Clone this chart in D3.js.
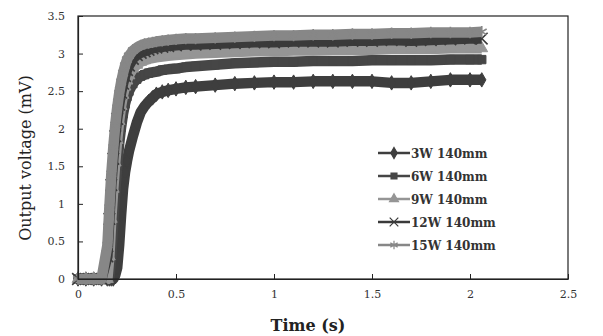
<!DOCTYPE html>
<html>
<head>
<meta charset="utf-8">
<script src="https://cdn.jsdelivr.net/npm/d3@7"></script>
<style>
  html, body { margin: 0; padding: 0; background: #fff; }
  svg { display: block; }
</style>
</head>
<body>
<svg id="chart" width="603" height="336"></svg>
<script>
// Sample times (s) shared by every series
const times = [0, 0.04, 0.08, 0.12, 0.15, 0.16, 0.17, 0.18, 0.19, 0.20, 0.21, 0.22, 0.23, 0.24, 0.25, 0.26,
  0.28, 0.30, 0.32, 0.34, 0.36, 0.38, 0.40, 0.43, 0.46, 0.50, 0.55, 0.60, 0.70, 0.80, 0.90, 1.00,
  1.10, 1.20, 1.30, 1.40, 1.50, 1.60, 1.70, 1.80, 1.90, 2.00, 2.06];

// Output voltage (mV) for each lamp power at 140 mm
const v3W = [0, 0, 0, 0, 0, 0, 0, 0, 0.05, 0.15, 0.45, 0.85, 1.20, 1.42, 1.57, 1.70,
  1.90, 2.08, 2.22, 2.30, 2.36, 2.41, 2.46, 2.49, 2.51, 2.53, 2.55, 2.56, 2.58, 2.60, 2.61, 2.62,
  2.62, 2.63, 2.63, 2.63, 2.63, 2.61, 2.61, 2.63, 2.65, 2.65, 2.65];
const v6W = [0, 0, 0, 0, 0, 0, 0.30, 0.75, 1.15, 1.50, 1.80, 2.02, 2.20, 2.33, 2.43, 2.50,
  2.60, 2.66, 2.70, 2.72, 2.74, 2.75, 2.76, 2.78, 2.79, 2.80, 2.82, 2.83, 2.85, 2.87, 2.88, 2.89,
  2.89, 2.90, 2.90, 2.90, 2.91, 2.91, 2.91, 2.91, 2.92, 2.92, 2.92];
const v9W = [0, 0, 0, 0, 0, 0.30, 0.80, 1.20, 1.55, 1.85, 2.10, 2.30, 2.45, 2.56, 2.64, 2.71,
  2.80, 2.85, 2.89, 2.91, 2.93, 2.94, 2.95, 2.96, 2.97, 2.98, 2.99, 3.00, 3.01, 3.02, 3.03, 3.03,
  3.04, 3.04, 3.05, 3.05, 3.05, 3.06, 3.06, 3.06, 3.07, 3.07, 3.07];
const v12W = [0, 0, 0, 0, 0.30, 0.80, 1.25, 1.60, 1.90, 2.13, 2.32, 2.48, 2.60, 2.70, 2.78, 2.84,
  2.93, 2.98, 3.01, 3.03, 3.05, 3.07, 3.08, 3.09, 3.10, 3.11, 3.12, 3.12, 3.13, 3.14, 3.15, 3.15,
  3.16, 3.16, 3.16, 3.17, 3.17, 3.18, 3.17, 3.18, 3.19, 3.20, 3.20];
const v15W = [0, 0, 0, 0, 0.45, 0.95, 1.40, 1.75, 2.05, 2.28, 2.47, 2.62, 2.74, 2.84, 2.92, 2.97,
  3.04, 3.08, 3.11, 3.13, 3.14, 3.15, 3.16, 3.17, 3.18, 3.19, 3.20, 3.20, 3.21, 3.22, 3.23, 3.24,
  3.24, 3.25, 3.25, 3.26, 3.26, 3.27, 3.27, 3.28, 3.28, 3.28, 3.29];

const seriesNames = ["3W 140mm", "6W 140mm", "9W 140mm", "12W 140mm", "15W 140mm"];
const seriesValues = [v3W, v6W, v9W, v12W, v15W];

const xTicks = [0, 0.5, 1, 1.5, 2, 2.5];
const yTicks = [0, 0.5, 1, 1.5, 2, 2.5, 3, 3.5];

// Per-series drawing style
const styles = [
  { color: "#3e3e3e", symbol: d3.symbolDiamond, stroke: false, size: 60 },
  { color: "#464646", symbol: d3.symbolSquare,  stroke: false, size: 70 },
  { color: "#959595", symbol: d3.symbolTriangle, stroke: false, size: 60 },
  { color: "#3a3a3a", symbol: d3.symbolX,        stroke: true,  size: 90 },
  { color: "#878787", symbol: d3.symbolAsterisk, stroke: true,  size: 90 }
];

const svg = d3.select("#chart");
const plot = { left: 78, right: 568, top: 16, bottom: 279 };

const x = d3.scaleLinear().domain([0, 2.5]).range([plot.left, plot.right]);
const y = d3.scaleLinear().domain([0, 3.5]).range([plot.bottom, plot.top]);

const tickFont = "'DejaVu Serif', serif";

// Axes with inward ticks
const xAxis = d3.axisBottom(x).tickValues(xTicks).tickSizeInner(-5).tickSizeOuter(0)
  .tickPadding(11).tickFormat(d3.format("~g"));
const yAxis = d3.axisLeft(y).tickValues(yTicks).tickSizeInner(-5).tickSizeOuter(0)
  .tickPadding(13).tickFormat(d3.format("~g"));

// Series: thick band line with markers on top
const line = d3.line().x((d) => x(d[0])).y((d) => y(d[1]));

seriesValues.forEach((vals, i) => {
  const st = styles[i];
  const pts = times.map((t, k) => [t, vals[k]]);
  const g = svg.append("g").attr("class", "series");
  g.append("path")
    .datum(pts)
    .attr("d", line)
    .attr("fill", "none")
    .attr("stroke", st.color)
    .attr("stroke-width", 10.5)
    .attr("stroke-linejoin", "round")
    .attr("stroke-linecap", "butt");
  const sym = d3.symbol().type(st.symbol).size(st.size);
  g.selectAll("path.mk")
    .data(pts)
    .join("path")
    .attr("class", "mk")
    .attr("transform", (d) => `translate(${x(d[0])},${y(d[1])})`)
    .attr("d", sym)
    .attr("fill", st.stroke ? "none" : st.color)
    .attr("stroke", st.color)
    .attr("stroke-width", st.stroke ? 1.6 : 1);
});

// Plot frame
svg.append("rect")
  .attr("x", plot.left).attr("y", plot.top)
  .attr("width", plot.right - plot.left).attr("height", plot.bottom - plot.top)
  .attr("fill", "none").attr("stroke", "#222").attr("stroke-width", 1.2);

const gx = svg.append("g").attr("transform", `translate(0,${plot.bottom})`).call(xAxis);
const gy = svg.append("g").attr("transform", `translate(${plot.left},0)`).call(yAxis);
[gx, gy].forEach((g) => {
  g.select(".domain").attr("stroke", "#222").attr("stroke-width", 1.2);
  g.selectAll(".tick line").attr("stroke", "#222");
  g.selectAll(".tick text").attr("font-family", tickFont).attr("font-size", 11).attr("fill", "#333");
});

// Axis titles
svg.append("text")
  .attr("x", 308)
  .attr("y", 331)
  .attr("text-anchor", "middle")
  .attr("font-family", tickFont)
  .attr("font-weight", "bold")
  .attr("font-size", 16)
  .attr("fill", "#222")
  .text("Time (s)");

svg.append("text")
  .attr("transform", "translate(31,158) rotate(-90)")
  .attr("text-anchor", "middle")
  .attr("font-family", tickFont)
  .attr("font-size", 16)
  .attr("fill", "#222")
  .text("Output voltage (mV)");

// Legend
const legend = svg.append("g").attr("transform", "translate(378,153)");
seriesNames.forEach((name, i) => {
  const st = styles[i];
  const row = legend.append("g").attr("transform", `translate(0,${i * 23})`);
  row.append("line")
    .attr("x1", 0).attr("x2", 32).attr("y1", 0).attr("y2", 0)
    .attr("stroke", st.color).attr("stroke-width", 2.5);
  row.append("path")
    .attr("transform", "translate(16,0)")
    .attr("d", d3.symbol().type(st.symbol).size(st.stroke ? 50 : 35))
    .attr("fill", st.stroke ? "none" : st.color)
    .attr("stroke", st.color)
    .attr("stroke-width", 1.2);
  row.append("text")
    .attr("x", 33).attr("y", 4.5)
    .attr("font-family", tickFont)
    .attr("font-weight", "bold")
    .attr("font-size", 12)
    .attr("fill", "#333")
    .text(name);
});
</script>
</body>
</html>
